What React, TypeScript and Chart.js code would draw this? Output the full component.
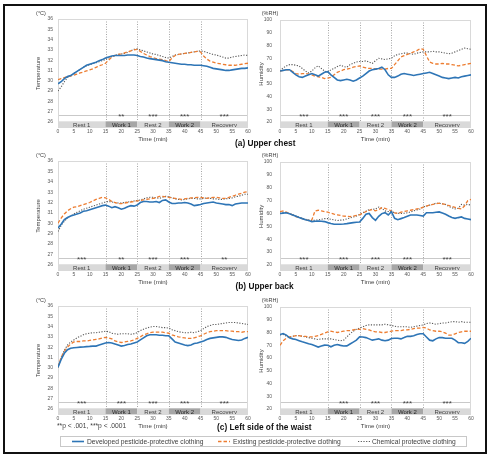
import React, { useEffect, useRef } from "react";
import { Chart, registerables } from "chart.js";
Chart.register(...registerables);

const FONT = '"Liberation Sans", Arial, sans-serif';

// ---------- data ----------
const minutes = [
  0, 1, 2, 3, 4, 5, 6, 7, 8, 9, 10, 11, 12, 13, 14, 15, 16, 17, 18, 19, 20,
  21, 22, 23, 24, 25, 26, 27, 28, 29, 30, 31, 32, 33, 34, 35, 36, 37, 38, 39,
  40, 41, 42, 43, 44, 45, 46, 47, 48, 49, 50, 51, 52, 53, 54, 55, 56, 57, 58,
  59, 60,
];
const timeTicks = [0, 5, 10, 15, 20, 25, 30, 35, 40, 45, 50, 55, 60];
const tempTicks = [26, 27, 28, 29, 30, 31, 32, 33, 34, 35, 36];
const humTicks = [20, 30, 40, 50, 60, 70, 80, 90, 100];

const phaseNames = ["Rest 1", "Work 1", "Rest 2", "Work 2", "Recovery"];
const phaseStart = [0, 15, 25, 35, 45];
const phaseEnd = [15, 25, 35, 45, 60];
const phaseBoundaries = [15, 25, 35, 45];

const seriesNames = [
  "Developed pesticide-protective clothing",
  "Existing pesticide-protective clothing",
  "Chemical protective clothing",
];

// (a) Upper chest - temperature
const chestTempDeveloped = [
  29.7, 29.9, 30.2, 30.4, 30.5, 30.7, 30.9, 31.1, 31.3, 31.5,
  31.6, 31.7, 31.8, 31.95, 32.05, 32.2, 32.3, 32.4, 32.45, 32.45,
  32.45, 32.45, 32.5, 32.5, 32.5, 32.45, 32.35, 32.3, 32.2, 32.15,
  32.1, 32.05, 32.0, 31.95, 31.85, 31.8, 31.75, 31.7, 31.65, 31.6,
  31.6, 31.55, 31.55, 31.5, 31.5, 31.5, 31.45, 31.4, 31.3, 31.2,
  31.15, 31.1, 31.05, 31.0, 31.0, 31.05, 31.1, 31.15, 31.2, 31.2,
  31.25,
];
const chestTempExisting = [
  30.1, 30.2, 30.3, 30.4, 30.45, 30.55, 30.65, 30.75, 30.85, 30.95,
  31.05, 31.15, 31.3, 31.45, 31.55, 31.7, 32.0, 32.3, 32.45, 32.55,
  32.6, 32.7, 32.8, 32.9, 33.0, 33.05, 32.85, 32.65, 32.5, 32.35,
  32.25, 32.15, 32.1, 32.05, 31.95, 31.85, 32.2, 32.45, 32.55, 32.6,
  32.65, 32.7, 32.75, 32.8, 32.85, 32.8, 32.4, 32.1, 31.9, 31.8,
  31.7, 31.65, 31.6, 31.55, 31.5, 31.5, 31.5, 31.55, 31.6, 31.65,
  31.7,
];
const chestTempChemical = [
  29.0, 29.4, 29.9, 30.3, 30.5, 30.7, 30.9, 31.1, 31.3, 31.45,
  31.55, 31.65, 31.75, 31.85, 31.95, 32.05, 32.2, 32.35, 32.45, 32.55,
  32.6, 32.65, 32.75, 32.9, 33.05, 33.1, 33.0, 32.9, 32.8, 32.7,
  32.6, 32.55, 32.45, 32.35, 32.25, 32.2, 32.35, 32.5, 32.55, 32.6,
  32.65, 32.7, 32.75, 32.8, 32.85, 32.9, 32.85, 32.75, 32.65, 32.55,
  32.5, 32.4, 32.3, 32.2, 32.2, 32.3, 32.35, 32.4, 32.45, 32.5,
  32.45,
];
// (a) Upper chest - humidity
const chestHumDeveloped = [
  60, 60.5, 61, 61, 59, 57, 55.5, 55, 56, 57,
  58, 57, 56, 57.5, 59, 59.5, 57, 55, 53, 52.5,
  53, 53.5, 53, 52, 53, 54.5, 56, 58, 60, 61,
  61.5, 62, 63, 61, 57, 55, 55, 56, 57.5, 58,
  57.5, 57, 56.5, 57, 57.5, 58, 58.5, 59, 58, 57,
  56, 55, 54.5, 54, 54.5, 55, 54.5, 55.5, 56, 56.5,
  57,
];
const chestHumExisting = [
  60, 60.5, 61, 61, 59.5, 58, 57.5, 58, 58, 57.5,
  57, 56, 55.5, 55, 54, 54.5, 55, 57, 59, 60,
  61, 61.5, 62, 63, 63.5, 64, 63, 62.5, 62, 62,
  61.5, 61.5, 61.5, 61.5, 62, 62, 65, 68, 71, 72,
  73, 74, 75, 76, 77.5, 77, 72, 67, 66, 65.5,
  65.5, 66, 65.5, 65.5, 65, 64.5, 64, 64.5, 65, 65.5,
  66,
];
const chestHumChemical = [
  60, 62.5, 64, 65, 65, 64.5, 64, 62, 60, 58.5,
  60, 62.5, 64, 62, 60, 59, 61, 62, 63.5, 64.5,
  63.5, 63, 65, 66, 67, 67.5, 67.5, 68, 67, 66,
  68, 70, 69.5, 69, 69.5, 70, 72, 73, 73.5, 74,
  74, 73.5, 73, 74, 74.5, 75, 75, 75, 75.5, 75,
  75, 74.5, 74, 73.5, 74, 75, 76, 77, 78, 77.5,
  77,
];

// (b) Upper back - temperature
const backTempDeveloped = [
  29.55, 29.9, 30.35, 30.55, 30.7, 30.8, 30.9, 31.0, 31.15, 31.2,
  31.3, 31.4, 31.5, 31.6, 31.7, 31.75, 31.65, 31.5, 31.6, 31.5,
  31.35, 31.45, 31.6, 31.7, 31.65, 31.75, 32.0, 32.1, 32.1, 32.05,
  32.05, 32.1, 32.0, 32.2, 32.25, 32.05, 31.9, 31.9, 31.95, 31.95,
  32.0, 31.95, 31.85, 31.7, 31.75, 31.8, 31.9, 31.95, 32.0, 32.05,
  31.95, 31.9, 31.85, 31.8, 31.8, 31.7, 31.85, 31.9, 31.95, 31.95,
  31.95,
];
const backTempExisting = [
  30.0, 30.5, 30.9, 31.2, 31.4, 31.55, 31.6, 31.7, 31.8, 31.9,
  32.0, 32.15, 32.3, 32.4, 32.5, 32.45, 32.3, 32.1, 32.0, 31.9,
  31.9, 31.95, 32.0, 32.05, 32.1, 32.15, 32.2, 32.25, 32.3, 32.35,
  32.4, 32.45, 32.6, 32.6, 32.55, 32.5, 32.45, 32.4, 32.35, 32.3,
  32.35, 32.4, 32.45, 32.45, 32.5, 32.5, 32.45, 32.4, 32.45, 32.5,
  32.5, 32.45, 32.4, 32.4, 32.5, 32.6, 32.7, 32.8, 32.9, 33.0,
  33.05,
];
const backTempChemical = [
  29.2, 29.8, 30.2, 30.5, 30.7, 30.9, 31.05, 31.2, 31.35, 31.45,
  31.55, 31.65, 31.75, 31.85, 31.95, 32.05, 32.1, 32.05, 32.0, 31.95,
  31.95, 32.0, 32.05, 32.1, 32.15, 32.2, 32.25, 32.35, 32.45, 32.5,
  32.5, 32.45, 32.4, 32.5, 32.6, 32.55, 32.45, 32.35, 32.3, 32.25,
  32.3, 32.35, 32.4, 32.4, 32.35, 32.35, 32.4, 32.45, 32.4, 32.35,
  32.35, 32.3, 32.3, 32.35, 32.4, 32.45, 32.55, 32.6, 32.7, 32.8,
  32.8,
];
// (b) Upper back - humidity
const backHumDeveloped = [
  60, 60.3, 60.6, 59.7, 58.8, 57.8, 56.8, 56, 55.2, 54.5,
  53.7, 54, 54.2, 54, 53.7, 52.9, 52.2, 51.6, 51.6, 51.6,
  51.8, 52.1, 52.5, 52.9, 53.2, 53.4, 56.2, 59.4, 60, 56.8,
  54.7, 57.8, 59.9, 60.6, 58.8, 61.4, 56.2, 55.2, 56, 56.8,
  57.8, 58.8, 58.8, 58.8, 58.4, 58, 60.6, 60.6, 60.6, 61,
  61.2, 60.3, 59.4, 58, 56.8, 56.2, 56.8, 57.3, 56.2, 55.7,
  55.2,
];
const backHumExisting = [
  61.4, 62, 61, 59.9, 58.7, 57.5, 56.8, 56, 55.2, 54.5,
  55, 62, 62.5, 62, 61.5, 61, 60.2, 59.5, 59, 58.5,
  58, 57.8, 57.5, 58, 58.5, 59, 60.2, 61.5, 62.5, 63,
  62, 63, 64.5, 64, 63, 62, 60.5, 60, 61, 61.5,
  62, 62.5, 63, 63.5, 64, 65, 65.8, 66.5, 67, 67.5,
  68, 67.5, 67, 66.2, 65.5, 64.8, 64, 63.5, 66, 70,
  71,
];
const backHumChemical = [
  60, 61, 60.5, 59.8, 59, 58, 57, 56.2, 55.5, 55,
  54.5, 54.8, 55, 55.5, 56, 56, 55.5, 55, 54.5, 54.8,
  55, 55.8, 56.5, 57.2, 58, 59.2, 60.5, 61.8, 63, 63.2,
  63.5, 65, 64, 62, 61.5, 61.5, 60.5, 60.2, 60, 60.2,
  60.5, 61.2, 62, 62.8, 63.5, 65, 65.8, 66.5, 67.2, 68,
  68, 67.5, 67, 65.5, 64.5, 63.5, 64, 67, 66.5, 67,
  66.5,
];

// (c) Left side of the waist - temperature
const waistTempDeveloped = [
  30.06, 30.8, 31.4, 31.75, 31.9, 31.94, 31.97, 32.0, 32.02, 32.05,
  32.07, 32.1, 32.1, 32.2, 32.3, 32.4, 32.45, 32.4, 32.3, 32.2,
  32.1, 32.15, 32.25, 32.3, 32.4, 32.5, 32.7, 32.9, 33.1, 33.2,
  33.2, 33.2, 33.15, 33.15, 33.1, 33.1, 32.8, 32.5, 32.4, 32.3,
  32.2, 32.15, 32.2, 32.35, 32.4, 32.5, 32.6, 32.75, 32.85, 32.9,
  32.95, 33.0, 33.0, 32.95, 32.85, 32.75, 32.7, 32.65, 32.7, 32.85,
  32.95,
];
const waistTempExisting = [
  30.1, 31.0, 31.6, 32.0, 32.3, 32.5, 32.55, 32.55, 32.6, 32.6,
  32.65, 32.7, 32.75, 32.8, 32.9, 32.95, 32.9, 32.8, 32.6, 32.5,
  32.45, 32.5, 32.55, 32.6, 32.7, 32.85, 33.0, 33.2, 33.3, 33.4,
  33.45, 33.45, 33.45, 33.45, 33.4, 33.35, 33.2, 33.1, 33.0, 32.95,
  32.9, 32.85, 32.85, 32.9, 33.0, 33.1, 33.25, 33.4, 33.5, 33.55,
  33.6, 33.6, 33.6, 33.6, 33.55, 33.55, 33.5, 33.5, 33.45, 33.5,
  33.5,
];
const waistTempChemical = [
  30.0, 31.0, 31.7, 32.2, 32.5, 32.7, 32.9, 33.05, 33.2, 33.3,
  33.35, 33.4, 33.4, 33.45, 33.5, 33.55, 33.5, 33.35, 33.3, 33.25,
  33.3, 33.3, 33.3, 33.25, 33.3, 33.4, 33.6, 33.75, 33.85, 33.95,
  34.0, 34.0, 33.95, 33.9, 33.9, 33.85, 33.7, 33.6, 33.5, 33.45,
  33.4, 33.4, 33.45, 33.4, 33.5, 33.6, 33.8, 34.0, 34.1, 34.2,
  34.2, 34.25, 34.3, 34.35, 34.4, 34.4, 34.4, 34.35, 34.3, 34.25,
  34.2,
];
// (c) Left side of the waist - humidity
const waistHumDeveloped = [
  78.4, 79.2, 78, 75.8, 75, 74.5, 73.6, 72.7, 72, 71.2,
  70.6, 69.6, 68.6, 69.4, 70.1, 70, 68.8, 70, 70.6, 69.9,
  69.4, 69.5, 71, 72.5, 74, 76.6, 76.5, 76, 75, 74,
  74.5, 75, 74, 73.5, 74, 75.3, 75.5, 75.5, 75, 76,
  77.1, 77, 77.5, 78.5, 79, 79, 76.5, 74, 73.5, 75,
  76, 76, 75.5, 75.5, 75.5, 74, 72, 72, 71.5, 73,
  75.5,
];
const waistHumExisting = [
  70, 73.5, 75.5, 76.5, 77, 77.5, 77.5, 77, 77, 76.5,
  76.5, 77, 77.5, 78.5, 79.5, 80.5, 81, 80.5, 80, 80.5,
  81, 81.5, 81.5, 82, 82.5, 82.5, 83, 82.5, 82, 81,
  80.5, 80.5, 80, 80, 80.5, 81, 81.5, 81.5, 81.5, 82,
  82, 82.5, 83, 83.5, 83.5, 84, 83.5, 82, 81.5, 81,
  81, 80.5, 79.5, 78, 78, 79, 80, 80.5, 81, 81,
  81,
];
const waistHumChemical = [
  78, 78.5, 77, 76.5, 77, 77.5, 77.5, 77, 76.5, 76,
  75.5, 75, 74.5, 75, 75, 75, 75, 74.5, 74, 73.5,
  74, 76.5, 79, 81, 82.5, 83.5, 84.5, 85.5, 86, 86,
  86, 86, 86, 86.5, 86, 85.5, 85, 84.5, 84.5, 84.5,
  84.5, 84, 84.5, 85, 85.5, 86, 87, 87.5, 87, 86.5,
  87, 87.5, 87.5, 88, 88.5, 88.5, 88, 88.5, 88, 88,
  88,
];

// significance marks per phase
const sigChestTemp = ["", "**", "***", "***", "***"];
const sigChestHum = ["***", "***", "***", "***", "***"];
const sigBackTemp = ["***", "**", "***", "***", "**"];
const sigBackHum = ["***", "***", "***", "***", "***"];
const sigWaistTemp = ["***", "***", "***", "***", "***"];
const sigWaistHum = ["", "***", "***", "***", "***"];

// ---------- styling ----------
const COLORS = ["#2e75b6", "#ed7d31", "#595959"];
const WIDTHS = [1.6, 1.3, 1.1];
const DASHES: number[][] = [[], [3.5, 2], [1.2, 1.5]];

type AxisKind = {
  min: number;
  max: number;
  ticks: number[];
  title: string;
  unit: string;
  unitX: number;
  barTop: number;
  sigLine: number;
  canvasLeft: number;
  canvasWidth: number;
  yWidth: number;
  titlePad: number;
  tickPad: number;
  padRight: number;
};

const TEMP: AxisKind = {
  min: 25.4,
  max: 36,
  ticks: tempTicks,
  title: "Temperature",
  unit: "(°C)",
  unitX: 41,
  barTop: 26.05,
  sigLine: 26.7,
  canvasLeft: 10,
  canvasWidth: 246,
  yWidth: 48,
  titlePad: 24.4,
  tickPad: 5,
  padRight: 8,
};
const HUM: AxisKind = {
  min: 15.3,
  max: 100,
  ticks: humTicks,
  title: "Humidity",
  unit: "(%RH)",
  unitX: 270,
  barTop: 20.5,
  sigLine: 25.5,
  canvasLeft: 256,
  canvasWidth: 226,
  yWidth: 24,
  titlePad: 1.4,
  tickPad: 8,
  padRight: 11,
};

const PAD_TOP = 10;
const X_HEIGHT = 16;

type PanelProps = {
  kind: AxisKind;
  plotTop: number;
  plotBottom: number;
  series: number[][];
  sig: string[];
};

function Panel({ kind, plotTop, plotBottom, series, sig }: PanelProps) {
  const ref = useRef<HTMLCanvasElement>(null);
  const canvasTop = plotTop - PAD_TOP;
  const canvasHeight = plotBottom + X_HEIGHT - canvasTop;

  useEffect(() => {
    const decor = {
      id: "decor",
      beforeDatasetsDraw(chart: any) {
        const { ctx, chartArea } = chart;
        const { left, right, top, bottom } = chartArea;
        const xs = chart.scales.x;
        const ys = chart.scales.y;
        ctx.save();
        // phase bars
        const yb0 = ys.getPixelForValue(kind.barTop);
        const yb1 = ys.getPixelForValue(kind.min);
        phaseNames.forEach((name, i) => {
          const x0 = xs.getPixelForValue(phaseStart[i]);
          const x1 = xs.getPixelForValue(phaseEnd[i]);
          ctx.fillStyle = name.startsWith("Work") ? "#a6a6a6" : "#d9d9d9";
          ctx.fillRect(x0, yb0, x1 - x0, yb1 - yb0);
          ctx.fillStyle = name.startsWith("Work") ? "#262626" : "#404040";
          ctx.font = `6px ${FONT}`;
          ctx.textAlign = "center";
          ctx.textBaseline = "middle";
          ctx.fillText(name, (x0 + x1) / 2, (yb0 + yb1) / 2 + 0.5);
        });
        // phase boundaries (dotted)
        ctx.strokeStyle = "#a6a6a6";
        ctx.lineWidth = 1;
        ctx.setLineDash([1, 1.5]);
        phaseBoundaries.forEach((b) => {
          const px = Math.round(xs.getPixelForValue(b)) + 0.5;
          ctx.beginPath();
          ctx.moveTo(px, top);
          ctx.lineTo(px, yb0);
          ctx.stroke();
        });
        ctx.setLineDash([]);
        // significance line
        const sy = Math.round(ys.getPixelForValue(kind.sigLine)) + 0.5;
        ctx.strokeStyle = "#c9c9c9";
        ctx.beginPath();
        ctx.moveTo(left, sy);
        ctx.lineTo(right, sy);
        ctx.stroke();
        // asterisks
        ctx.fillStyle = "#404040";
        ctx.font = `8px ${FONT}`;
        ctx.textAlign = "center";
        ctx.textBaseline = "alphabetic";
        sig.forEach((s, i) => {
          if (!s) return;
          const cx = xs.getPixelForValue((phaseStart[i] + phaseEnd[i]) / 2);
          ctx.fillText(s, cx, sy + 3.5);
        });
        // plot border
        ctx.strokeStyle = "#d9d9d9";
        ctx.strokeRect(
          Math.round(left) + 0.5,
          Math.round(top) + 0.5,
          Math.round(right - left) - 1,
          Math.round(bottom - top) - 1
        );
        ctx.restore();
      },
    };

    const chart = new Chart(ref.current as HTMLCanvasElement, {
      type: "line",
      data: {
        datasets: series.map((s, i) => ({
          label: seriesNames[i],
          data: minutes.map((m, j) => ({ x: m, y: s[j] })),
          borderColor: COLORS[i],
          borderWidth: WIDTHS[i],
          borderDash: DASHES[i],
          pointRadius: 0,
          fill: false,
          tension: 0,
        })),
      },
      options: {
        animation: false,
        responsive: false,
        maintainAspectRatio: false,
        devicePixelRatio: 1,
        layout: {
          padding: { top: PAD_TOP, right: kind.padRight, left: 0, bottom: 0 },
        },
        plugins: {
          legend: { display: false },
          tooltip: { enabled: false },
        },
        scales: {
          x: {
            type: "linear",
            min: 0,
            max: 60,
            grid: { display: false, drawTicks: false },
            border: { display: false },
            afterBuildTicks: (s: any) => {
              s.ticks = timeTicks.map((v) => ({ value: v }));
            },
            afterFit: (s: any) => {
              s.height = X_HEIGHT;
            },
            ticks: {
              autoSkip: false,
              maxRotation: 0,
              padding: 1,
              color: "#595959",
              font: { size: 5, family: FONT },
            },
            title: {
              display: true,
              text: "Time (min)",
              color: "#404040",
              padding: { top: 0, bottom: 1.2 },
              font: { size: 6.2, family: FONT },
            },
          },
          y: {
            type: "linear",
            min: kind.min,
            max: kind.max,
            grid: { display: false, drawTicks: false },
            border: { display: false },
            afterBuildTicks: (s: any) => {
              s.ticks = kind.ticks.map((v) => ({ value: v }));
            },
            afterFit: (s: any) => {
              s.width = kind.yWidth;
            },
            ticks: {
              padding: kind.tickPad,
              color: "#595959",
              font: { size: 5, family: FONT },
            },
            title: {
              display: true,
              text: kind.title,
              color: "#404040",
              padding: { top: kind.titlePad, bottom: 0 },
              font: { size: 6, family: FONT },
            },
          },
        },
      } as any,
      plugins: [decor],
    });
    return () => chart.destroy();
  }, []);

  return (
    <>
      <canvas
        ref={ref}
        width={kind.canvasWidth}
        height={canvasHeight}
        style={{
          position: "absolute",
          left: kind.canvasLeft,
          top: canvasTop,
          width: kind.canvasWidth,
          height: canvasHeight,
        }}
      />
      <span
        style={{
          position: "absolute",
          left: kind.unitX - 12,
          width: 24,
          textAlign: "center",
          top: plotTop - 9,
          fontFamily: FONT,
          fontSize: "5.5px",
          color: "#404040",
          whiteSpace: "nowrap",
          lineHeight: "6px",
          display: "block",
        }}
      >
        {kind.unit}
      </span>
    </>
  );
}

const rows = [
  {
    top: 19,
    bottom: 128,
    caption: "(a) Upper chest",
    capX: 235,
    capY: 142.5,
    temp: [chestTempDeveloped, chestTempExisting, chestTempChemical],
    hum: [chestHumDeveloped, chestHumExisting, chestHumChemical],
    sigT: sigChestTemp,
    sigH: sigChestHum,
  },
  {
    top: 161,
    bottom: 271,
    caption: "(b) Upper back",
    capX: 235.5,
    capY: 285.7,
    temp: [backTempDeveloped, backTempExisting, backTempChemical],
    hum: [backHumDeveloped, backHumExisting, backHumChemical],
    sigT: sigBackTemp,
    sigH: sigBackHum,
  },
  {
    top: 306,
    bottom: 415,
    caption: "(c) Left side of the waist",
    capX: 217,
    capY: 427,
    temp: [waistTempDeveloped, waistTempExisting, waistTempChemical],
    hum: [waistHumDeveloped, waistHumExisting, waistHumChemical],
    sigT: sigWaistTemp,
    sigH: sigWaistHum,
  },
];

const legendItems = [
  { lineX: 72, textX: 87 },
  { lineX: 218, textX: 233 },
  { lineX: 358, textX: 372 },
];

export default function App() {
  return (
    <div
      style={{
        position: "absolute",
        left: 0,
        top: 0,
        width: 493,
        height: 454,
        background: "#fff",
        overflow: "hidden",
        fontFamily: FONT,
      }}
    >
      <div
        style={{
          position: "absolute",
          left: 3,
          top: 4,
          width: 484,
          height: 450,
          boxSizing: "border-box",
          border: "2px solid #111",
        }}
      />
      {rows.map((r, i) => (
        <React.Fragment key={i}>
          <Panel kind={TEMP} plotTop={r.top} plotBottom={r.bottom} series={r.temp} sig={r.sigT} />
          <Panel kind={HUM} plotTop={r.top} plotBottom={r.bottom} series={r.hum} sig={r.sigH} />
          <div
            style={{
              position: "absolute",
              left: r.capX,
              top: r.capY,
              transform: "translateY(-50%)",
              font: `bold 8.3px ${FONT}`,
              color: "#111",
              whiteSpace: "nowrap",
              lineHeight: 1,
            }}
          >
            {r.caption}
          </div>
        </React.Fragment>
      ))}
      <div
        style={{
          position: "absolute",
          left: 57,
          top: 426,
          transform: "translateY(-50%)",
          font: `6.7px ${FONT}`,
          color: "#404040",
          whiteSpace: "nowrap",
          lineHeight: 1,
        }}
      >
        **p &lt; .001, ***p &lt; .0001
      </div>
      <div
        style={{
          position: "absolute",
          left: 60,
          top: 436,
          width: 407,
          height: 11,
          boxSizing: "border-box",
          border: "1px solid #c8c8c8",
        }}
      />
      <svg
        width={493}
        height={454}
        style={{ position: "absolute", left: 0, top: 0, pointerEvents: "none" }}
      >
        {legendItems.map((it, i) => (
          <line
            key={i}
            x1={it.lineX}
            x2={it.lineX + 12}
            y1={441.5}
            y2={441.5}
            stroke={COLORS[i]}
            strokeWidth={WIDTHS[i]}
            strokeDasharray={DASHES[i].length ? DASHES[i].join(" ") : undefined}
          />
        ))}
      </svg>
      {legendItems.map((it, i) => (
        <div
          key={i}
          style={{
            position: "absolute",
            left: it.textX,
            top: 441.5,
            transform: "translateY(-50%)",
            font: `6.7px ${FONT}`,
            color: "#404040",
            whiteSpace: "nowrap",
            lineHeight: 1,
          }}
        >
          {seriesNames[i]}
        </div>
      ))}
    </div>
  );
}
